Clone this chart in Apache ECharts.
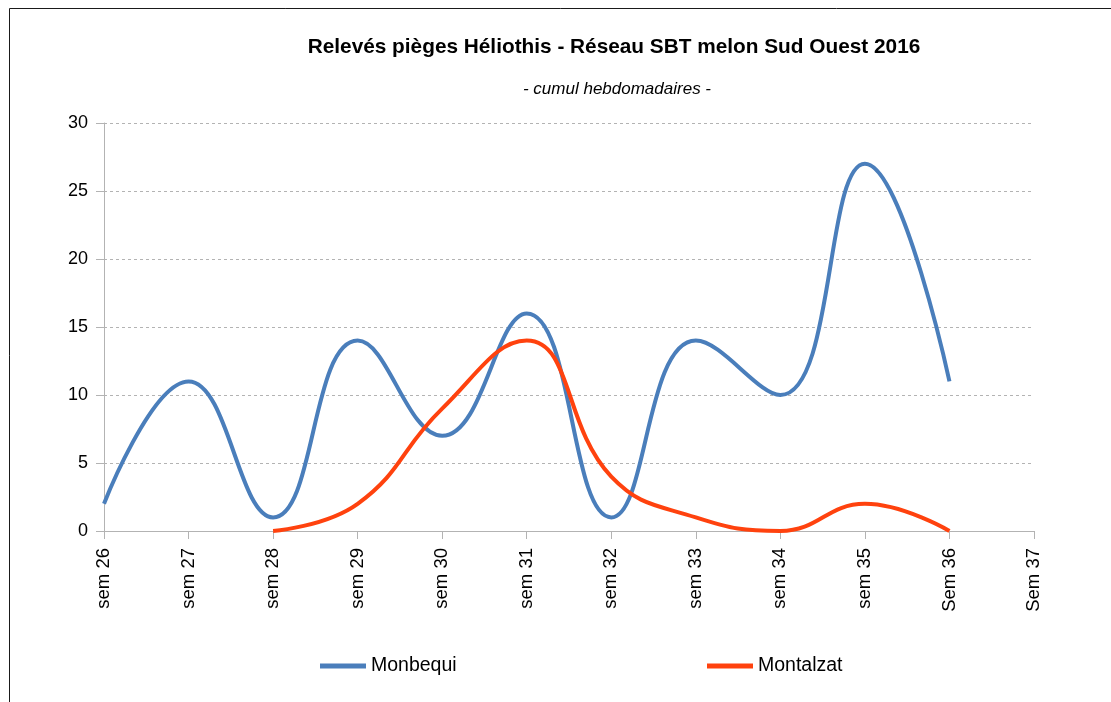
<!DOCTYPE html>
<html><head><meta charset="utf-8">
<script src="https://cdn.jsdelivr.net/npm/echarts@6/dist/echarts.min.js"></script>
<style>html,body{margin:0;padding:0;background:#fff}#c{width:1111px;height:702px}</style>
</head><body><div id="c"></div>
<script>
const categories = ['sem 26','sem 27','sem 28','sem 29','sem 30','sem 31','sem 32','sem 33','sem 34','sem 35','Sem 36','Sem 37'];
const monbequi = [2, 11, 1, 14, 7, 16, 1, 14, 10, 27, 11, null];
const montalzat = [null, null, 0, 2, 9, 14, 4, 1, 0, 2, 0, null];
const titleText = 'Relevés pièges Héliothis - Réseau SBT melon Sud Ouest 2016';
const subtitleText = '- cumul hebdomadaires -';

const chart = echarts.init(document.getElementById('c'), null, {renderer:'canvas'});
const font = 'Liberation Sans, Arial, sans-serif';
chart.setOption({
  animation: false,
  textStyle: {fontFamily: font},
  graphic: [{type:'rect', shape:{x:9.5, y:8.5, width:1300, height:900}, style:{fill:'none', stroke:'#1a1a1a', lineWidth:1}, silent:true}],
  title: [
    {text: titleText, left: 609, top: 32, textAlign: 'center', textStyle:{fontFamily: font, fontSize: 20.8, fontWeight:'bold', color:'#000'}},
    {text: subtitleText, left: 612, top: 76, textAlign: 'center', textStyle:{fontFamily: font, fontSize: 17, fontStyle:'italic', fontWeight:'normal', color:'#000'}}
  ],
  legend: [
    {data:['Monbequi'], left: 315, top: 651, itemWidth: 46, itemHeight: 5, itemGap: 7, icon:'rect', textStyle:{fontFamily: font, fontSize: 19.5, color:'#000'}},
    {data:['Montalzat'], left: 702, top: 651, itemWidth: 46, itemHeight: 5, itemGap: 7, icon:'rect', textStyle:{fontFamily: font, fontSize: 19.5, color:'#000'}}
  ],
  grid: {left: 104, right: 77, top: 123, bottom: 171, containLabel: false},
  xAxis: {
    type:'category', data: categories, boundaryGap: false,
    axisLine:{show:true, lineStyle:{color:'#b3b3b3', width:1}},
    axisTick:{show:true, length:8, alignWithLabel:true, lineStyle:{color:'#b3b3b3'}},
    axisLabel:{rotate:90, fontSize:18.5, color:'#000', margin:17, interval:0, fontFamily: font},
    splitLine:{show:false}
  },
  yAxis: {
    type:'value', min:0, max:30, interval:5,
    axisLine:{show:true, lineStyle:{color:'#b3b3b3', width:1}},
    axisTick:{show:true, length:8, lineStyle:{color:'#b3b3b3'}},
    axisLabel:{fontSize:18, color:'#000', margin:16, fontFamily: font},
    splitLine:{show:true, lineStyle:{color:'#b3b3b3', type:[3,3], width:1}}
  },
  series: [
    {name:'Monbequi', type:'line', data: monbequi, smooth: 0.45, symbol:'none', clip:true, lineStyle:{width:4, color:'#4a7ebb'}, itemStyle:{color:'#4a7ebb'}},
    {name:'Montalzat', type:'line', data: montalzat, smooth: 0.45, symbol:'none', clip:true, lineStyle:{width:4, color:'#ff420e'}, itemStyle:{color:'#ff420e'}}
  ]
});
</script></body></html>
